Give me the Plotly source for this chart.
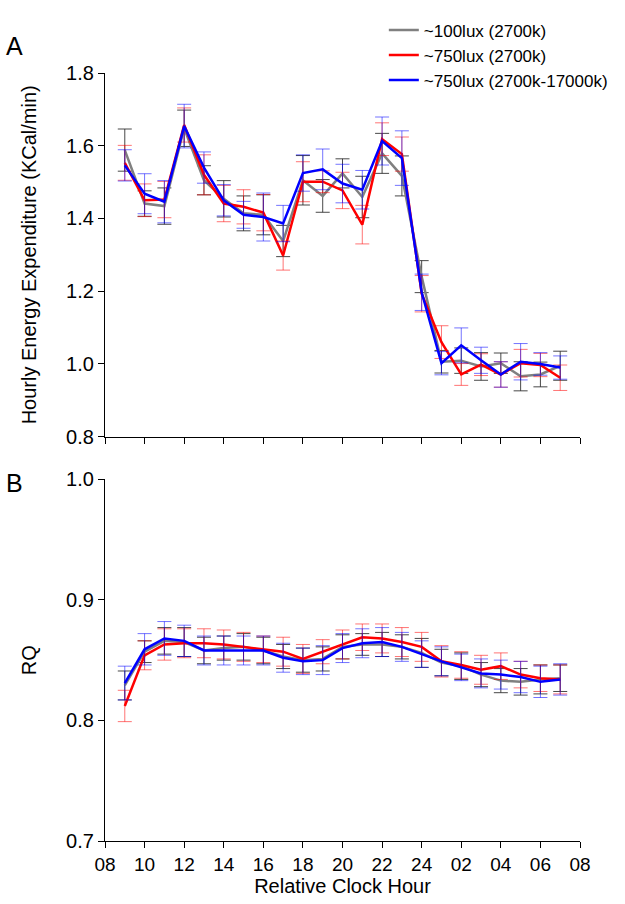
import plotly.graph_objects as go

hours = list(range(9, 32))
tick_vals = [8, 10, 12, 14, 16, 18, 20, 22, 24, 26, 28, 30, 32]
tick_text = ["08", "10", "12", "14", "16", "18", "20", "22", "24", "02", "04", "06", "08"]

series_names = ["~100lux (2700k)", "~750lux (2700k)", "~750lux (2700k-17000k)"]

# Panel A: hourly energy expenditure (KCal/min)
ee_gray = [1.588, 1.441, 1.434, 1.648, 1.505, 1.454, 1.414, 1.410, 1.338, 1.505, 1.462, 1.524,
           1.459, 1.579, 1.517, 1.240, 1.006, 1.009, 0.993, 1.002, 0.966, 0.971, 0.995]
ee_gray_err = [0.058, 0.035, 0.050, 0.050, 0.040, 0.050, 0.048, 0.055, 0.043, 0.068, 0.045, 0.040,
               0.057, 0.055, 0.055, 0.044, 0.031, 0.035, 0.038, 0.028, 0.040, 0.034, 0.040]
ee_red = [1.553, 1.450, 1.452, 1.657, 1.520, 1.441, 1.432, 1.416, 1.298, 1.501, 1.501, 1.477,
          1.383, 1.618, 1.577, 1.193, 1.060, 0.971, 0.998, 0.971, 1.002, 0.997, 0.962]
ee_red_err = [0.048, 0.045, 0.050, 0.047, 0.055, 0.050, 0.047, 0.050, 0.040, 0.055, 0.030, 0.050,
              0.053, 0.045, 0.047, 0.050, 0.045, 0.030, 0.030, 0.035, 0.038, 0.032, 0.035]
ee_blue = [1.546, 1.468, 1.446, 1.654, 1.540, 1.450, 1.410, 1.404, 1.386, 1.525, 1.535, 1.496,
           1.479, 1.613, 1.566, 1.197, 1.002, 1.051, 1.010, 0.971, 1.006, 1.000, 0.990]
ee_blue_err = [0.043, 0.055, 0.058, 0.060, 0.043, 0.043, 0.037, 0.066, 0.050, 0.050, 0.056, 0.053,
               0.053, 0.066, 0.075, 0.050, 0.032, 0.048, 0.036, 0.035, 0.050, 0.031, 0.032]

# Panel B: RQ
rq_gray = [0.829, 0.857, 0.866, 0.865, 0.858, 0.860, 0.861, 0.858, 0.853, 0.850, 0.851, 0.861,
           0.863, 0.863, 0.861, 0.856, 0.848, 0.845, 0.838, 0.833, 0.832, 0.834, 0.835]
rq_gray_err = [0.012, 0.009, 0.011, 0.012, 0.011, 0.010, 0.011, 0.011, 0.010, 0.010, 0.010, 0.010,
               0.009, 0.010, 0.010, 0.012, 0.011, 0.011, 0.010, 0.010, 0.011, 0.012, 0.011]
rq_red = [0.812, 0.854, 0.863, 0.864, 0.864, 0.863, 0.861, 0.859, 0.857, 0.851, 0.857, 0.863,
          0.869, 0.868, 0.865, 0.861, 0.849, 0.846, 0.842, 0.845, 0.838, 0.835, 0.834]
rq_red_err = [0.013, 0.012, 0.013, 0.012, 0.012, 0.012, 0.012, 0.011, 0.012, 0.012, 0.010, 0.012,
              0.011, 0.012, 0.012, 0.012, 0.013, 0.011, 0.012, 0.011, 0.011, 0.011, 0.012]
rq_blue = [0.831, 0.859, 0.868, 0.866, 0.858, 0.858, 0.858, 0.858, 0.852, 0.849, 0.850, 0.860,
           0.864, 0.865, 0.861, 0.855, 0.849, 0.844, 0.839, 0.838, 0.836, 0.832, 0.834]
rq_blue_err = [0.014, 0.013, 0.014, 0.013, 0.012, 0.012, 0.012, 0.012, 0.012, 0.011, 0.012, 0.012,
               0.012, 0.012, 0.012, 0.011, 0.012, 0.011, 0.012, 0.012, 0.013, 0.013, 0.013]

line_colors = ["#808080", "#ff0000", "#0000ff"]
bar_colors = ["rgba(40,40,40,0.85)", "rgba(255,0,0,0.55)", "rgba(0,0,255,0.55)"]

FONT = "Liberation Sans, Arial, sans-serif"

fig = go.Figure()

panel_a = [(ee_gray, ee_gray_err), (ee_red, ee_red_err), (ee_blue, ee_blue_err)]
panel_b = [(rq_gray, rq_gray_err), (rq_red, rq_red_err), (rq_blue, rq_blue_err)]

for i, (vals, errs) in enumerate(panel_a):
    fig.add_trace(go.Scatter(
        x=hours, y=vals, mode="lines", name=series_names[i],
        line=dict(color=line_colors[i], width=2.5),
        error_y=dict(type="data", array=errs, visible=True, color=bar_colors[i],
                     thickness=1, width=7),
        xaxis="x", yaxis="y", showlegend=True, legendgroup=str(i)))

for i, (vals, errs) in enumerate(panel_b):
    fig.add_trace(go.Scatter(
        x=hours, y=vals, mode="lines", name=series_names[i],
        line=dict(color=line_colors[i], width=2.5),
        error_y=dict(type="data", array=errs, visible=True, color=bar_colors[i],
                     thickness=1, width=7),
        xaxis="x2", yaxis="y2", showlegend=False, legendgroup=str(i)))

axis_common = dict(showline=True, linecolor="black", linewidth=1.3, ticks="outside",
                   ticklen=6, tickcolor="black", showgrid=False, zeroline=False,
                   automargin=False)
y_tickfont = dict(family=FONT, size=20, color="black")
x_tickfont = dict(family=FONT, size=19, color="black")
title_font = dict(family=FONT, size=20, color="black")

fig.update_layout(
    width=625, height=904,
    margin=dict(l=105, r=43, t=49, b=63),
    paper_bgcolor="white", plot_bgcolor="white",
    font=dict(family=FONT, color="black"),
    xaxis=dict(domain=[0, 1], range=[8, 32], tickvals=tick_vals, showticklabels=False,
               anchor="y", tickfont=x_tickfont, **axis_common),
    yaxis=dict(domain=[0.5265, 1], range=[0.8, 1.8], tickvals=[0.8, 1.0, 1.2, 1.4, 1.6, 1.8],
               tickformat=".1f", anchor="x", tickfont=y_tickfont,
               title=dict(text="Hourly Energy Expenditure (KCal/min)", standoff=24,
                          font=title_font),
               **axis_common),
    xaxis2=dict(domain=[0, 1], range=[8, 32], tickvals=tick_vals, ticktext=tick_text,
                anchor="y2", tickfont=x_tickfont,
                title=dict(text="Relative Clock Hour", standoff=0, font=title_font),
                **axis_common),
    yaxis2=dict(domain=[0, 0.471], range=[0.7, 1.0], tickvals=[0.7, 0.8, 0.9, 1.0],
                tickformat=".1f", anchor="x2", tickfont=y_tickfont,
                title=dict(text="RQ", standoff=24, font=title_font),
                **axis_common),
    legend=dict(x=0.587, y=1.079, xanchor="left", yanchor="top",
                font=dict(family=FONT, size=17, color="black"),
                bgcolor="rgba(0,0,0,0)", tracegroupgap=0, itemwidth=30),
    annotations=[
        dict(text="A", xref="paper", yref="paper", x=-0.212, y=1.035, showarrow=False,
             xanchor="left", yanchor="middle", font=dict(family=FONT, size=25, color="black")),
        dict(text="B", xref="paper", yref="paper", x=-0.212, y=0.466, showarrow=False,
             xanchor="left", yanchor="middle", font=dict(family=FONT, size=25, color="black")),
    ],
)

fig.write_html("out.html", config={"displayModeBar": False},
               post_script="document.body.style.margin='0';")
